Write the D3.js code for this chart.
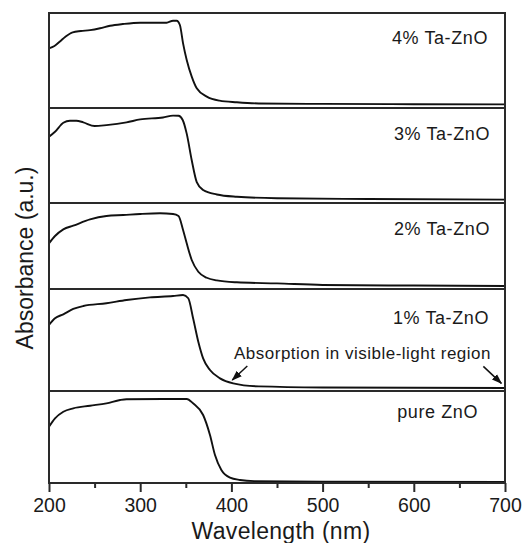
<!DOCTYPE html>
<html>
<head>
<meta charset="utf-8">
<script src="https://cdn.jsdelivr.net/npm/d3@7"></script>
<style>
  body { margin: 0; background: #fff; }
  text { font-family: Arial, "Liberation Sans", sans-serif; fill: #1a1a1a; }
</style>
</head>
<body>
<svg id="chart"></svg>
<script>
// spectra, wavelength (nm) vs absorbance (a.u., scaled to each panel)
const ta4 = [[200,0.628],[206,0.653],[212,0.70],[218,0.75],[226,0.797],[235,0.81],[245,0.82],[256,0.84],[267,0.866],[281,0.884],[300,0.898],[329,0.898],[336,0.918],[340,0.918],[343.5,0.874],[347,0.68],[351,0.505],[356.5,0.33],[362,0.207],[373,0.12],[387,0.077],[406,0.06],[430,0.048],[500,0.043],[600,0.04],[700,0.038]];
const ta3 = [[200,0.698],[206.6,0.75],[215.7,0.845],[223,0.866],[230,0.866],[237.6,0.849],[250,0.81],[263,0.82],[285,0.849],[300,0.88],[325,0.9],[336,0.92],[342,0.918],[346.6,0.874],[351,0.73],[356.5,0.45],[362,0.22],[369,0.137],[384,0.09],[406,0.066],[450,0.05],[550,0.042],[700,0.035]];
const ta2 = [[200,0.531],[206.6,0.616],[215.7,0.694],[226.6,0.736],[245,0.81],[263,0.849],[281.5,0.86],[300,0.872],[321.7,0.88],[336,0.872],[342,0.849],[347,0.686],[351,0.531],[356.5,0.337],[363.7,0.2],[373,0.131],[384,0.1],[406,0.078],[450,0.065],[500,0.047],[600,0.04],[700,0.035]];
const ta1 = [[200,0.647],[206.6,0.713],[215.7,0.752],[226.6,0.804],[237.6,0.833],[263,0.86],[285,0.892],[310.7,0.918],[336,0.931],[347,0.941],[352.7,0.909],[358,0.713],[363.7,0.483],[369,0.32],[376.5,0.206],[387.5,0.124],[402,0.075],[430,0.045],[500,0.035],[700,0.03]];
const pure = [[200,0.612],[206.6,0.703],[215.7,0.775],[226.6,0.812],[245,0.84],[263,0.866],[278,0.902],[285,0.91],[325,0.913],[351,0.913],[358,0.866],[369,0.739],[376.5,0.522],[382,0.304],[389,0.141],[398.5,0.058],[409.4,0.033],[425,0.02],[500,0.015],[700,0.012]];

const sampleNames = ["4% Ta-ZnO", "3% Ta-ZnO", "2% Ta-ZnO", "1% Ta-ZnO", "pure ZnO"];
const spectra = [ta4, ta3, ta2, ta1, pure];

const majorTicks = [200, 300, 400, 500, 600, 700];
const minorTicks = [250, 350, 450, 550, 650];

const annotationText = "Absorption in visible-light region";
const arrowTips = [[401, 0.108], [696, 0.075]]; // on the 1% curve

const width = 522, height = 543;
const left = 49, right = 505;
// panel borders, top to bottom
const edges = [13, 108, 203, 289, 391, 483];
// label placement per panel: right edge x and baseline below panel top
const labelPos = [{x: 488, dy: 31}, {x: 490, dy: 31.5}, {x: 490, dy: 32}, {x: 489, dy: 34.5}, {x: 478, dy: 27}];

const svg = d3.select("#chart").attr("width", width).attr("height", height);

svg.append("defs").append("marker")
    .attr("id", "head")
    .attr("viewBox", "0 0 10 10")
    .attr("refX", 9).attr("refY", 5)
    .attr("markerWidth", 7).attr("markerHeight", 7)
    .attr("orient", "auto")
    .append("path").attr("d", "M0,1.5 L10,5 L0,8.5 Z").attr("fill", "#111");

const x = d3.scaleLinear().domain([200, 700]).range([left, right]);

const line = d3.line().curve(d3.curveMonotoneX);

const yScales = [];

spectra.forEach((series, i) => {
    const y = d3.scaleLinear().domain([0, 1]).range([edges[i + 1], edges[i]]);
    yScales.push(y);

    svg.append("path")
        .datum(series)
        .attr("fill", "none")
        .attr("stroke", "#111")
        .attr("stroke-width", 1.9)
        .attr("stroke-linejoin", "round")
        .attr("d", line.x(d => x(d[0])).y(d => y(d[1])));

    svg.append("text")
        .attr("x", labelPos[i].x)
        .attr("y", edges[i] + labelPos[i].dy)
        .attr("text-anchor", "end")
        .attr("font-size", 18)
        .attr("letter-spacing", 0.6)
        .text(sampleNames[i]);
});

// panel frames
spectra.forEach((s, i) => {
    svg.append("rect")
        .attr("x", left).attr("y", edges[i])
        .attr("width", right - left).attr("height", edges[i + 1] - edges[i])
        .attr("fill", "none")
        .attr("stroke", "#2a2a2a")
        .attr("stroke-width", 2);
});

// bottom axis
const axisG = svg.append("g").attr("transform", `translate(0,${edges[5]})`);
axisG.call(d3.axisBottom(x).tickValues(majorTicks).tickSize(9).tickPadding(6).tickFormat(d3.format("d")));
axisG.call(g => g.select(".domain").remove());
axisG.selectAll(".tick line").attr("stroke", "#2a2a2a").attr("stroke-width", 2);
axisG.selectAll(".tick text").attr("font-size", 19.5).attr("fill", "#1a1a1a")
    .attr("font-family", "Arial, 'Liberation Sans', sans-serif");

const minorG = svg.append("g").attr("transform", `translate(0,${edges[5]})`);
minorG.call(d3.axisBottom(x).tickValues(minorTicks).tickSize(5).tickFormat(""));
minorG.call(g => g.select(".domain").remove());
minorG.selectAll(".tick line").attr("stroke", "#2a2a2a").attr("stroke-width", 2);

// axis titles
svg.append("text")
    .attr("x", (left + right) / 2 + 4)
    .attr("y", 539)
    .attr("text-anchor", "middle")
    .attr("font-size", 23)
    .attr("letter-spacing", 0.3)
    .text("Wavelength (nm)");

svg.append("text")
    .attr("transform", `translate(33,${(edges[0] + edges[5]) / 2 + 10}) rotate(-90)`)
    .attr("text-anchor", "middle")
    .attr("font-size", 23)
    .text("Absorbance (a.u.)");

// annotation in the 1% panel
const y1 = yScales[3];
svg.append("text")
    .attr("x", 491)
    .attr("y", 359)
    .attr("text-anchor", "end")
    .attr("font-size", 17)
    .attr("letter-spacing", 0.5)
    .text(annotationText);

const arrowOffsets = [[15, -14], [-18, -17]];
arrowTips.forEach((t, i) => {
    const tx = x(t[0]), ty = y1(t[1]);
    svg.append("line")
        .attr("x1", tx + arrowOffsets[i][0]).attr("y1", ty + arrowOffsets[i][1])
        .attr("x2", tx).attr("y2", ty)
        .attr("stroke", "#111")
        .attr("stroke-width", 1.5)
        .attr("marker-end", "url(#head)");
});
</script>
</body>
</html>
